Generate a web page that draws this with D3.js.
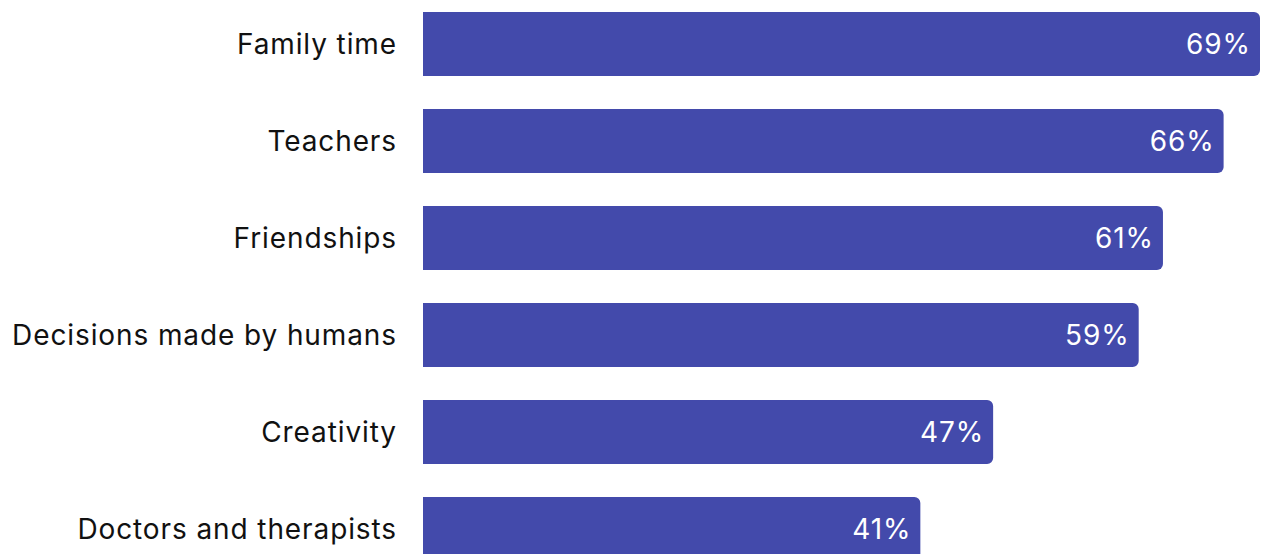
<!DOCTYPE html>
<html>
<head>
<meta charset="utf-8">
<script src="https://cdn.jsdelivr.net/npm/d3@7"></script>
<style>
  html, body { margin: 0; padding: 0; background: #fff; }
  svg { display: block; }
</style>
</head>
<body>
<svg id="chart" width="1261" height="554"></svg>
<script>
// Share of respondents per category
const categories = ["Family time", "Teachers", "Friendships", "Decisions made by humans", "Creativity", "Doctors and therapists"];
const values = [69, 66, 61, 59, 47, 41];

const chartW = 1261, chartH = 554;
const barLeft = 423, barRight = 1260;
const barColor = "#434AAB";
const fontFamily = "Inter, 'Noto Sans', sans-serif";
const rowStep = 97, rowGap = 33, firstRowY = 12;

const svg = d3.select("#chart");

const x = d3.scaleLinear().domain([0, 69]).range([barLeft, barRight]);
const y = d3.scaleBand()
  .domain(categories)
  .range([firstRowY, firstRowY + rowStep * categories.length - rowGap])
  .paddingInner(rowGap / rowStep)
  .paddingOuter(0);

const r = 6;
// Bars with rounded right-hand corners only
function barPath(x0, x1, y0, h) {
  return `M${x0},${y0}H${x1 - r}A${r},${r} 0 0 1 ${x1},${y0 + r}V${y0 + h - r}A${r},${r} 0 0 1 ${x1 - r},${y0 + h}H${x0}Z`;
}

const rows = categories.map((c, i) => ({ c, v: values[i] }));

svg.selectAll("path.bar").data(rows).join("path")
  .attr("class", "bar")
  .attr("fill", barColor)
  .attr("d", d => barPath(x(0), x(d.v), y(d.c), y.bandwidth()));

svg.selectAll("text.cat").data(rows).join("text")
  .attr("class", "cat")
  .attr("x", barLeft - 26)
  .attr("y", d => y(d.c) + y.bandwidth() / 2)
  .attr("dy", "0.35em")
  .attr("text-anchor", "end")
  .attr("font-family", fontFamily)
  .attr("font-size", 28)
  .attr("letter-spacing", "0.9px")
  .attr("fill", "#111")
  .text(d => d.c);

svg.selectAll("text.val").data(rows).join("text")
  .attr("class", "val")
  .attr("x", d => x(d.v) - 9)
  .attr("y", d => y(d.c) + y.bandwidth() / 2)
  .attr("dy", "0.35em")
  .attr("text-anchor", "end")
  .attr("font-family", fontFamily)
  .attr("font-size", 28)
  .attr("letter-spacing", "0.9px")
  .attr("fill", "#fff")
  .text(d => d.v + "%");
</script>
</body>
</html>
